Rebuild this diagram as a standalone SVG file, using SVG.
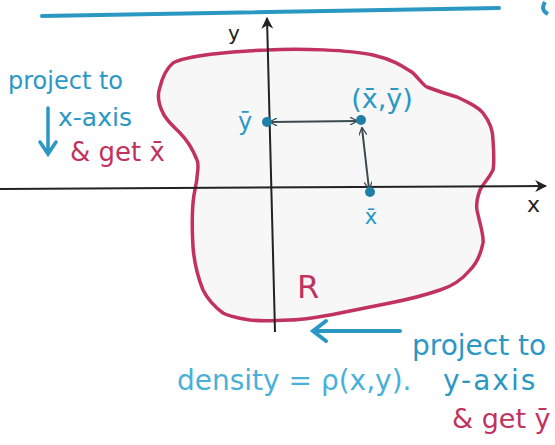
<svg xmlns="http://www.w3.org/2000/svg" width="555" height="445" viewBox="0 0 555 445">
<style>
.blue{fill:#2b98c4;font-family:"DejaVu Sans","Liberation Sans",sans-serif}
.red{fill:#c2325e;font-family:"DejaVu Sans","Liberation Sans",sans-serif}
.blk{fill:#222;font-family:"DejaVu Sans","Liberation Sans",sans-serif}
.ax{stroke:#222;stroke-width:2;fill:none}
.conn{stroke:#3a4a50;stroke-width:2;fill:none}
.bl{stroke:#2b98c4;stroke-width:4;fill:none;stroke-linecap:round}
</style>
<defs>
<marker id="ah" viewBox="0 0 10 10" refX="9" refY="5" markerWidth="8" markerHeight="8" orient="auto-start-reverse" markerUnits="userSpaceOnUse">
<path d="M0,0 L10,5 L0,10" fill="none" stroke="#3a4a50" stroke-width="1.6"/>
</marker>
<marker id="axh" viewBox="0 0 10 10" refX="9" refY="5" markerWidth="12" markerHeight="12" orient="auto" markerUnits="userSpaceOnUse">
<path d="M0,0 L10,5 L0,10 L3,5 Z" fill="#222"/>
</marker>
</defs>
<rect width="555" height="445" fill="#fff"/>
<path class="bl" d="M42,16 L499,8"/>
<path d="M545,2 Q540,10 548,14" stroke="#2b98c4" stroke-width="4" fill="none"/>

<g id="region">
<path d="M173,63 C185,56 230,51 267,50 C300,48 350,50 373,55 C395,60 405,68 413,73 C420,80 425,87 427,87 C440,92 450,95 457,97 C470,103 478,107 483,113 C490,122 493,130 493,140 C494,155 494,165 493,170 C488,180 482,185 480,190 C477,198 476,204 477,210 C480,225 484,235 483,243 C480,258 475,265 470,270 C460,282 450,287 440,290 C420,297 405,300 390,303 C370,307 355,310 340,313 C320,317 305,320 290,320 C270,321 258,321 250,320 C238,318 230,317 223,313 C212,305 207,298 203,290 C197,275 194,260 193,247 C192,230 192,215 193,203 C194,190 197,183 197,177 C198,168 199,164 197,160 C193,150 187,140 180,133 C172,125 166,120 163,113 C158,103 157,95 160,87 C163,75 167,68 173,63 Z" fill="#f7f7f7" stroke="#c2325e" stroke-width="3.5"/>
<text class="red" x="297" y="298" font-size="32">R</text>
</g>

<g id="axes">
<path class="ax" d="M275,332 L267,18" marker-end="url(#axh)"/>
<path class="ax" d="M0,189 L546,186" marker-end="url(#axh)"/>
<text class="blk" x="228" y="40" font-size="20">y</text>
<text class="blk" x="527" y="212" font-size="22">x</text>
</g>

<g id="connectors">
<path class="conn" d="M270,122 L357,121" marker-start="url(#ah)" marker-end="url(#ah)"/>
<path class="conn" d="M362,128 L369,189" marker-start="url(#ah)" marker-end="url(#ah)"/>
</g>

<g id="centroid">
<circle cx="361" cy="120" r="5" fill="#1f7fa6"/>
<text class="blue" x="382" y="108" font-size="27" text-anchor="middle">(x̄,ȳ)</text>
</g>
<g id="ybar">
<circle cx="267" cy="122" r="5" fill="#1f7fa6"/>
<text class="blue" x="245" y="130" font-size="24" text-anchor="middle">ȳ</text>
</g>
<g id="xbar">
<circle cx="370" cy="192" r="5" fill="#1f7fa6"/>
<text class="blue" x="371" y="224" font-size="21" text-anchor="middle">x̄</text>
</g>

<g id="note-x">
<text class="blue" x="8" y="89" font-size="24">project to</text>
<text class="blue" x="58" y="126" font-size="25">x-axis</text>
<path d="M48,108 L48,152 M40,142 L48,154 L56,142" stroke="#2b98c4" stroke-width="3.5" fill="none" stroke-linecap="round"/>
<text class="red" x="70" y="161" font-size="26">&amp; get x̄</text>
</g>

<g id="note-y">
<path class="bl" d="M400,331 L316,331"/>
<path d="M326,321 L313,331 L326,341" stroke="#2b98c4" stroke-width="4" fill="none" stroke-linecap="round"/>
<text class="blue" x="412" y="355" font-size="28">project to</text>
<text class="blue" x="443" y="390" font-size="28" letter-spacing="2">y-axis</text>
<text class="red" x="452" y="428" font-size="27">&amp; get ȳ</text>
</g>

<g id="density">
<text class="blue" x="177" y="390" font-size="28" style="fill:#4ab0d8">density = ρ(x,y).</text>
</g>
</svg>
